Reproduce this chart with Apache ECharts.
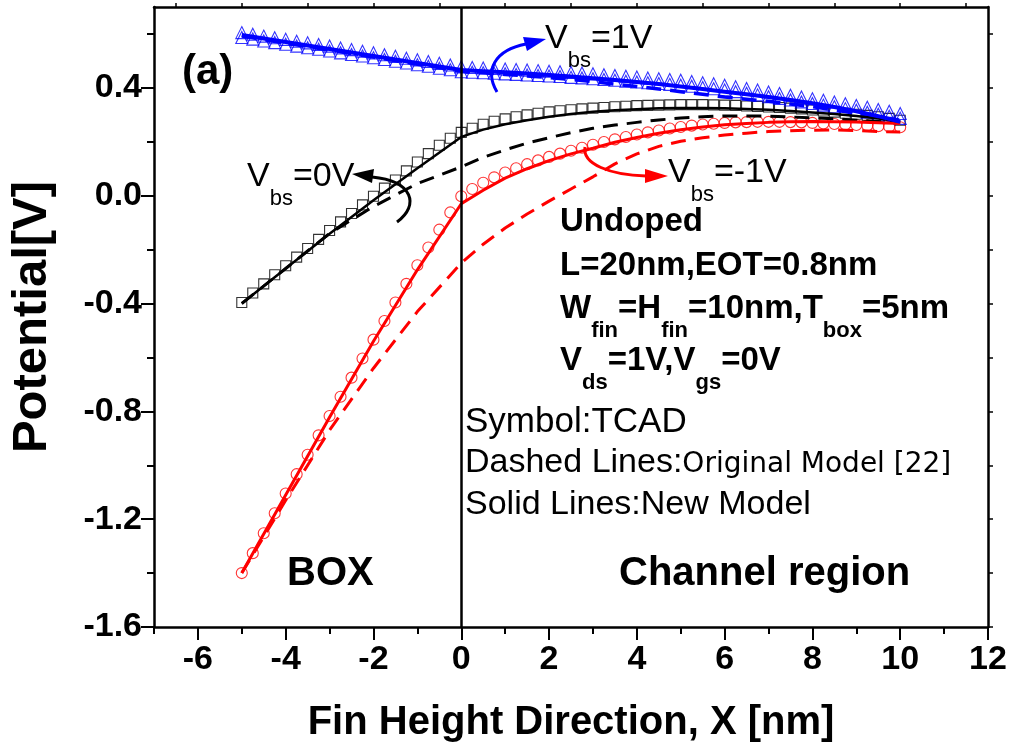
<!DOCTYPE html>
<html><head><meta charset="utf-8">
<script src="https://cdn.jsdelivr.net/npm/echarts@6/dist/echarts.min.js"></script>
<style>html,body{margin:0;padding:0;background:#fff}#c{width:1013px;height:749px}</style>
</head><body><div id="c"></div>
<script>
// ---- data ----
const xMarks = [-5,-4.75,-4.5,-4.25,-4,-3.75,-3.5,-3.25,-3,-2.75,-2.5,-2.25,-2,-1.75,-1.5,-1.25,-1,-0.75,-0.5,-0.25,0,
  0.25,0.5,0.75,1,1.25,1.5,1.75,2,2.25,2.5,2.75,3,3.25,3.5,3.75,4,4.25,4.5,4.75,5,
  5.25,5.5,5.75,6,6.25,6.5,6.75,7,7.25,7.5,7.75,8,8.25,8.5,8.75,9,9.25,9.5,9.75,10];
const tcadVbs1 = [0.605,0.599,0.592,0.586,0.580,0.573,0.567,0.561,0.555,0.548,0.542,0.536,0.530,0.523,0.517,0.510,0.504,0.498,0.491,0.485,0.478,
  0.476,0.474,0.472,0.470,0.468,0.466,0.464,0.462,0.460,0.457,0.455,0.452,0.449,0.446,0.443,0.440,0.437,0.434,0.431,0.428,
  0.424,0.419,0.415,0.410,0.404,0.398,0.392,0.385,0.379,0.373,0.366,0.360,0.354,0.348,0.341,0.335,0.328,0.320,0.313,0.305];
const tcadVbs1b = [0.587,0.581,0.574,0.568,0.562,0.555,0.549,0.543,0.537,0.530,0.524,0.518,0.512,0.505,0.499,0.492,0.486,0.480,0.473,0.467,0.460,
  0.458,0.456,0.454,0.452,0.450,0.448,0.446,0.444,0.442,0.439,0.437,0.434,0.431,0.428,0.425,0.422,0.419,0.416,0.413,0.410,
  0.406,0.401,0.397,0.392,0.386,0.380,0.374,0.367,0.361,0.355,0.348,0.342,0.336,0.330,0.323,0.317,0.310,0.302,0.295,0.287];
const tcadVbs0 = [-0.396,-0.361,-0.327,-0.293,-0.260,-0.228,-0.196,-0.162,-0.129,-0.097,-0.066,-0.034,-0.002,0.028,0.058,0.092,0.125,0.156,0.187,0.213,0.235,
  0.250,0.265,0.276,0.285,0.293,0.300,0.306,0.311,0.315,0.319,0.322,0.325,0.327,0.330,0.332,0.334,0.335,0.336,0.337,0.338,
  0.338,0.338,0.337,0.336,0.335,0.333,0.331,0.329,0.327,0.325,0.322,0.318,0.314,0.310,0.306,0.302,0.298,0.293,0.287,0.280];
const tcadVbsM1 = [-1.400,-1.326,-1.252,-1.178,-1.105,-1.033,-0.961,-0.889,-0.817,-0.746,-0.675,-0.604,-0.534,-0.465,-0.396,-0.327,-0.258,-0.192,-0.126,-0.062,-0.002,
  0.025,0.048,0.068,0.086,0.102,0.117,0.131,0.144,0.156,0.167,0.178,0.189,0.199,0.209,0.218,0.227,0.235,0.242,0.249,0.255,
  0.260,0.264,0.267,0.270,0.272,0.273,0.274,0.274,0.274,0.273,0.272,0.270,0.268,0.266,0.264,0.262,0.260,0.258,0.256,0.254];

const xLines = [-5,-4,-3,-2,-1,0,0.5,1,1.5,2,2.5,3,3.5,4,4.5,5,5.5,6,6.5,7,7.5,8,8.5,9,9.5,10];
const newVbs1   = [0.596,0.570,0.544,0.518,0.492,0.466,0.462,0.458,0.453,0.448,0.442,0.436,0.429,0.422,0.414,0.405,0.396,0.386,0.376,0.366,0.355,0.343,0.329,0.313,0.295,0.274];
const origVbs1  = [0.592,0.566,0.540,0.514,0.488,0.462,0.456,0.450,0.444,0.438,0.431,0.423,0.414,0.405,0.396,0.386,0.376,0.366,0.358,0.350,0.340,0.330,0.318,0.305,0.292,0.280];
const newVbs0   = [-0.400,-0.270,-0.141,-0.017,0.102,0.218,0.245,0.265,0.280,0.293,0.303,0.311,0.317,0.321,0.324,0.325,0.325,0.324,0.322,0.319,0.314,0.309,0.303,0.296,0.286,0.274];
const origVbs0  = [-0.400,-0.270,-0.140,-0.040,0.045,0.107,0.142,0.170,0.195,0.215,0.234,0.250,0.262,0.272,0.281,0.288,0.293,0.296,0.296,0.295,0.292,0.289,0.285,0.280,0.275,0.270];
const newVbsM1  = [-1.400,-1.110,-0.822,-0.540,-0.275,-0.030,0.020,0.065,0.100,0.130,0.155,0.176,0.198,0.216,0.232,0.245,0.255,0.263,0.268,0.272,0.274,0.275,0.274,0.273,0.271,0.268];
const origVbsM1 = [-1.400,-1.130,-0.870,-0.640,-0.430,-0.250,-0.180,-0.120,-0.068,-0.020,0.025,0.070,0.118,0.155,0.183,0.202,0.215,0.225,0.232,0.238,0.241,0.243,0.244,0.242,0.238,0.236];

const xMajorTicks = [-6,-4,-2,0,2,4,6,8,10,12];
const xMinorTicks = [-7,-5,-3,-1,1,3,5,7,9,11];
const xTopTicks = [-6.5,-5,-3.5,-2,-0.5,1,2.5,4,5.5,7,8.5,10,11.5];
const yMajorTicks = [-1.6,-1.2,-0.8,-0.4,0,0.4];
const yMinorTicks = [-1.4,-1.0,-0.6,-0.2,0.2,0.6];
const yRightTicks = [-1.6,-1.4,-1.2,-1.0,-0.8,-0.6,-0.4,-0.2,0,0.2,0.4,0.6];

// ---- chart ----
const AR = "'Liberation Sans', Arial, sans-serif";
const NARROW = "'Liberation Sans Narrow', 'Liberation Sans', Arial, sans-serif";
const pairs = (xs, ys) => xs.map((x, i) => [x, ys[i]]);
const RED = '#ff0000', BLUE = '#0000ff', BLACK = '#000000';

function lineSeries(name, ys, color, width, dashed) {
  return { name, type: 'line', data: pairs(xLines, ys), showSymbol: false, symbol: 'none',
    lineStyle: { color, width, type: dashed ? [15, 9] : 'solid' }, z: 4, silent: true, animation: false };
}
function markerSeries(name, ys, symbol, size, color) {
  return { name, type: 'scatter', data: pairs(xMarks, ys), symbol, symbolSize: size,
    itemStyle: { color: 'rgba(255,255,255,0)', borderColor: color, borderWidth: 1.1 }, z: 3, silent: true, animation: false };
}

const axisLineStyle = { color: BLACK, width: 2.5 };
const option = {
  backgroundColor: '#fff',
  animation: false,
  grid: { left: 151, right: 25, top: 7, bottom: 122 },
  xAxis: [
    { type: 'value', position: 'bottom', min: -7, max: 12,
      axisLine: { show: true, onZero: false, lineStyle: axisLineStyle },
      axisTick: { show: true, customValues: xMajorTicks, length: 13, lineStyle: { color: BLACK, width: 2 } },
      axisLabel: { customValues: xMajorTicks, color: BLACK, fontFamily: AR, fontWeight: 'bold', fontSize: 34, margin: 16 },
      splitLine: { show: false },
      name: 'Fin Height Direction, X [nm]', nameLocation: 'middle', nameGap: 76,
      nameTextStyle: { fontFamily: NARROW, fontWeight: 'bold', fontSize: 40, color: BLACK } },
    { type: 'value', position: 'bottom', min: -7, max: 12,
      axisLine: { show: false, onZero: false },
      axisTick: { show: true, customValues: xMinorTicks, length: 7, lineStyle: { color: BLACK, width: 2 } },
      axisLabel: { show: false }, splitLine: { show: false } },
    { type: 'value', position: 'top', min: -7, max: 12,
      axisLine: { show: true, onZero: false, lineStyle: axisLineStyle },
      axisTick: { show: true, customValues: xTopTicks, length: 4, lineStyle: { color: BLACK, width: 1.5 } },
      axisLabel: { show: false }, splitLine: { show: false } }
  ],
  yAxis: [
    { type: 'value', position: 'left', min: -1.6, max: 0.7,
      axisLine: { show: true, onZero: false, lineStyle: axisLineStyle },
      axisTick: { show: true, customValues: yMajorTicks, length: 13, lineStyle: { color: BLACK, width: 2 } },
      axisLabel: { customValues: yMajorTicks, color: BLACK, fontFamily: AR, fontWeight: 'bold', fontSize: 34, margin: 12,
        formatter: v => v.toFixed(1) },
      splitLine: { show: false },
      name: 'Potential[V]', nameLocation: 'middle', nameGap: 97, nameRotate: 90,
      nameTextStyle: { fontFamily: AR, fontWeight: 'bold', fontSize: 49, color: BLACK } },
    { type: 'value', position: 'left', min: -1.6, max: 0.7,
      axisLine: { show: false, onZero: false },
      axisTick: { show: true, customValues: yMinorTicks, length: 7, lineStyle: { color: BLACK, width: 2 } },
      axisLabel: { show: false }, splitLine: { show: false } },
    { type: 'value', position: 'right', min: -1.6, max: 0.7,
      axisLine: { show: true, onZero: false, lineStyle: axisLineStyle },
      axisTick: { show: true, customValues: yRightTicks, length: 5, lineStyle: { color: BLACK, width: 1.5 } },
      axisLabel: { show: false }, splitLine: { show: false } }
  ],
  series: [
    markerSeries('TCAD Vbs=-1V', tcadVbsM1, 'circle', 11, RED),
    markerSeries('TCAD Vbs=0V', tcadVbs0, 'rect', 10, BLACK),
    markerSeries('TCAD Vbs=1V (b)', tcadVbs1b, 'triangle', 12, BLUE),
    markerSeries('TCAD Vbs=1V', tcadVbs1, 'triangle', 12, BLUE),
    lineSeries('Original Vbs=-1V', origVbsM1, RED, 3, true),
    lineSeries('Original Vbs=0V', origVbs0, BLACK, 3, true),
    lineSeries('Original Vbs=1V', origVbs1, BLUE, 3.5, true),
    lineSeries('New Vbs=-1V', newVbsM1, RED, 3, false),
    lineSeries('New Vbs=0V', newVbs0, BLACK, 2.5, false),
    Object.assign(lineSeries('New Vbs=1V', newVbs1, BLUE, 4, false), {
      markLine: { silent: true, symbol: ['none', 'none'], label: { show: false },
        lineStyle: { color: BLACK, width: 2.5, type: 'solid' }, data: [{ xAxis: 0 }] } })
  ],
  graphic: [
    { type: 'text', x: 182, y: 72, style: { text: '(a)', fontFamily: AR, fontWeight: 'bold', fontSize: 42, fill: BLACK, verticalAlign: 'middle' } },
    // Vbs labels
    { type: 'text', x: 545, y: 39, style: { text: '{v|V}{s|bs}{v|=1V}', verticalAlign: 'middle',
      rich: { v: { fontFamily: AR, fontSize: 34, fill: BLACK }, s: { fontFamily: AR, fontSize: 22, fill: BLACK, padding: [44, 0, 0, 0] } } } },
    { type: 'text', x: 247, y: 177, style: { text: '{v|V}{s|bs}{v|=0V}', verticalAlign: 'middle',
      rich: { v: { fontFamily: AR, fontSize: 34, fill: BLACK }, s: { fontFamily: AR, fontSize: 22, fill: BLACK, padding: [44, 0, 0, 0] } } } },
    { type: 'text', x: 668, y: 173, style: { text: '{v|V}{s|bs}{v|=-1V}', verticalAlign: 'middle',
      rich: { v: { fontFamily: AR, fontSize: 34, fill: BLACK }, s: { fontFamily: AR, fontSize: 22, fill: BLACK, padding: [44, 0, 0, 0] } } } },
    // arrows
    { type: 'bezierCurve', shape: { x1: 497, y1: 92, cpx1: 484, cpy1: 70, cpx2: 495, cpy2: 50, x2: 526, y2: 44 }, style: { stroke: BLUE, lineWidth: 3, fill: null } },
    { type: 'polygon', shape: { points: [[546, 39], [523, 37], [527, 51]] }, style: { fill: BLUE } },
    { type: 'bezierCurve', shape: { x1: 397, y1: 222, cpx1: 420, cpy1: 205, cpx2: 413, cpy2: 181, x2: 372, y2: 177 }, style: { stroke: BLACK, lineWidth: 3, fill: null } },
    { type: 'polygon', shape: { points: [[352, 174], [374, 169], [372, 183]] }, style: { fill: BLACK } },
    { type: 'bezierCurve', shape: { x1: 585, y1: 147, cpx1: 582, cpy1: 164, cpx2: 610, cpy2: 175, x2: 646, y2: 176 }, style: { stroke: RED, lineWidth: 3, fill: null } },
    { type: 'polygon', shape: { points: [[668, 176], [645, 169], [645, 183]] }, style: { fill: RED } },
    // parameter block
    { type: 'text', x: 560, y: 222, style: { text: 'Undoped', fontFamily: AR, fontWeight: 'bold', fontSize: 33, fill: BLACK, verticalAlign: 'middle' } },
    { type: 'text', x: 560, y: 266, style: { text: 'L=20nm,EOT=0.8nm', fontFamily: AR, fontWeight: 'bold', fontSize: 33, fill: BLACK, verticalAlign: 'middle' } },
    { type: 'text', x: 560, y: 309, style: { text: '{b|W}{s|fin}{b|=H}{s|fin}{b|=10nm,T}{s|box}{b|=5nm}', verticalAlign: 'middle',
      rich: { b: { fontFamily: AR, fontWeight: 'bold', fontSize: 33, fill: BLACK }, s: { fontFamily: AR, fontWeight: 'bold', fontSize: 22, fill: BLACK, padding: [44, 0, 0, 0] } } } },
    { type: 'text', x: 560, y: 361, style: { text: '{b|V}{s|ds}{b|=1V,V}{s|gs}{b|=0V}', verticalAlign: 'middle',
      rich: { b: { fontFamily: AR, fontWeight: 'bold', fontSize: 33, fill: BLACK }, s: { fontFamily: AR, fontWeight: 'bold', fontSize: 22, fill: BLACK, padding: [44, 0, 0, 0] } } } },
    { type: 'text', x: 465, y: 422, style: { text: 'Symbol:TCAD', fontFamily: AR, fontSize: 35, fill: BLACK, verticalAlign: 'middle' } },
    { type: 'text', x: 465, y: 463, style: { text: '{d|Dashed Lines:}{o|Original Model [22]}', verticalAlign: 'middle',
      rich: { d: { fontFamily: AR, fontSize: 34, fill: BLACK }, o: { fontFamily: "'DejaVu Sans', sans-serif", fontSize: 28, fill: BLACK, padding: [4, 0, 0, 0] } } } },
    { type: 'text', x: 465, y: 505, style: { text: 'Solid Lines:New Model', fontFamily: AR, fontSize: 34, fill: BLACK, verticalAlign: 'middle' } },
    { type: 'text', x: 287, y: 574, style: { text: 'BOX', fontFamily: AR, fontWeight: 'bold', fontSize: 40, fill: BLACK, verticalAlign: 'middle' } },
    { type: 'text', x: 619, y: 574, style: { text: 'Channel region', fontFamily: AR, fontWeight: 'bold', fontSize: 40, fill: BLACK, verticalAlign: 'middle' } }
  ]
};
const chart = echarts.init(document.getElementById('c'), null, { renderer: 'canvas' });
chart.setOption(option);
</script>
</body></html>
